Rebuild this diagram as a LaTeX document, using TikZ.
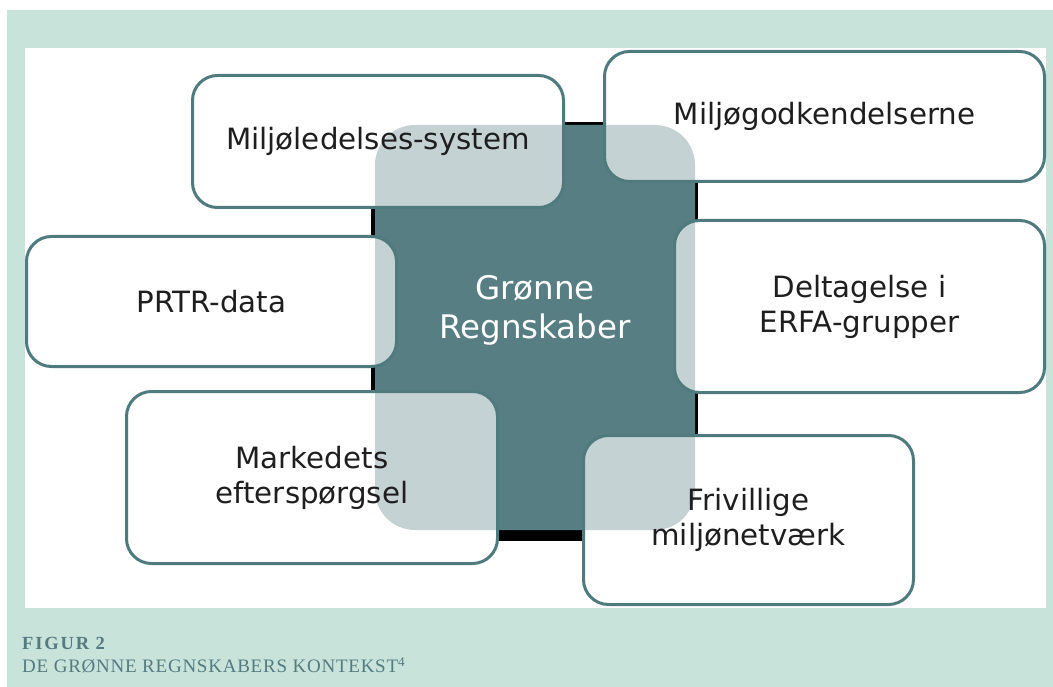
\documentclass[tikz,border=0pt]{standalone}
\usepackage{fontspec}
\setmainfont{DejaVu Sans}
\newfontfamily\capfont[LetterSpace=4]{Liberation Serif}
\newfontfamily\capfontsp[LetterSpace=10]{Liberation Serif}
\definecolor{mint}{HTML}{C7E3DA}
\definecolor{tealfill}{HTML}{577E83}
\definecolor{tealline}{HTML}{4F7A7E}
\definecolor{captxt}{HTML}{557A80}
\definecolor{boxtxt}{HTML}{1E1E1E}
\tikzset{
  outerbox/.style={draw=tealline, line width=3pt, rounded corners=25pt,
    fill=white, fill opacity=0.66, text opacity=1, text=boxtxt,
    align=center, font=\fontsize{29.3}{35}\selectfont, inner sep=0pt,
    rectangle},
  erase/.style={fill=white, rounded corners=25pt},
  centerbox/.style={fill=tealfill, rounded corners=40pt},
  centertext/.style={text=white, align=center, font=\fontsize{32.5}{39}\selectfont, inner sep=0pt},
}
\begin{document}
\begin{tikzpicture}[x=1pt,y=-1pt]
\useasboundingbox (0,0) rectangle (1053,687);
% backgrounds
\fill[mint] (7,10) rectangle (1053,687);
\fill[white] (25,48) rectangle (1046,608);
% black shadow of the central box
\fill[black] (371,122) rectangle (698,541);
% clear the shadow below the outer boxes
\fill[erase] (192.5,74.5) rectangle (563.5,206.5);
\fill[erase] (604.5,51.5) rectangle (1044.5,181.5);
\fill[erase] (26.5,236.5) rectangle (396.5,366.5);
\fill[erase] (674.5,219.5) rectangle (1044.5,391.5);
\fill[erase] (126.5,390.5) rectangle (497.5,562.5);
\fill[erase] (583.5,434.5) rectangle (913.5,603.5);
% central box
\fill[centerbox] (375,125) rectangle (695,530);
\node[centertext] (center) at (535,310) {Grønne\\Regnskaber};
% outer boxes
\node[outerbox, minimum width=371pt, minimum height=132pt] (mls) at (378,141.5) {Miljøledelses-system};
\node[outerbox, minimum width=440pt, minimum height=130pt] (mgk) at (824.5,116.5) {Miljøgodkendelserne};
\node[outerbox, minimum width=370pt, minimum height=130pt] (prtr) at (211.5,301.5) {PRTR-data};
\node[outerbox, minimum width=370pt, minimum height=172pt] (erfa) at (859.5,306.5) {Deltagelse i\\ERFA-grupper};
\node[outerbox, minimum width=371pt, minimum height=172pt] (mark) at (312,477.5) {Markedets\\efterspørgsel};
\node[outerbox, minimum width=330pt, minimum height=169pt] (friv) at (748.5,520) {Frivillige\\miljønetværk};
% caption
\node[anchor=base west, inner sep=0pt, text=captxt, font=\capfontsp\bfseries\fontsize{18.5}{20}\selectfont] (figlabel) at (22,649) {FIGUR 2};
\node[anchor=base west, inner sep=0pt, text=captxt, font=\capfont\fontsize{19}{20}\selectfont] (figtitle) at (22,672.5) {DE GRØNNE REGNSKABERS KONTEKST\textsuperscript{4}};
\end{tikzpicture}
\end{document}
